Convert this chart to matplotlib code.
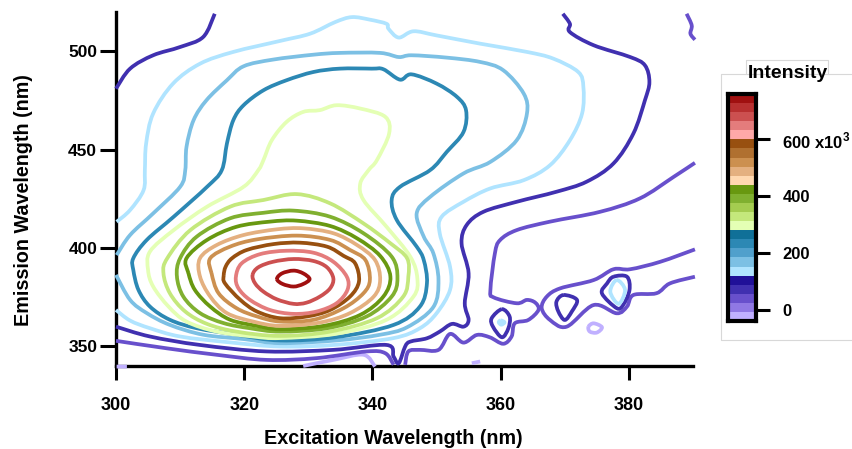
import numpy as np
import matplotlib.pyplot as plt
from matplotlib.lines import Line2D
from matplotlib.patches import PathPatch
from matplotlib.path import Path
from matplotlib.colors import ListedColormap

plt.rcParams["font.family"] = ["Liberation Sans", "DejaVu Sans"]
plt.rcParams["font.weight"] = "bold"
plt.rcParams["mathtext.fontset"] = "custom"
plt.rcParams["mathtext.bf"] = "Liberation Sans:bold"

# contour lines: (excitation nm, emission nm)
ring_dark_red = [(325.1, 384.2), (325.9, 387.1), (327.7, 388.5), (329.2, 387.1), (330.2, 384.2), (329.2, 381.7), (327.7, 380.4), (326.0, 381.7), (325.1, 384.2)]
ring_red = [(321.3, 386.3), (322.2, 390.2), (324.5, 393.0), (327.7, 394.4), (330.8, 393.4), (332.9, 390.2), (333.9, 384.6), (333.4, 379.5), (331.8, 375.3), (329.7, 372.2), (327.7, 371.6), (325.1, 373.9), (323.0, 377.8), (321.7, 382.0), (321.3, 386.3)]
ring_pink = [(318.7, 385.4), (319.6, 392.2), (322.5, 396.9), (326.6, 398.6), (330.8, 397.6), (333.9, 393.0), (336.0, 385.4), (336.1, 378.7), (334.4, 371.9), (331.3, 367.7), (327.7, 366.5), (324.0, 368.5), (320.9, 373.6), (319.1, 379.5), (318.7, 385.4)]
ring_brown = [(316.8, 386.0), (317.1, 390.5), (318.1, 394.8), (320.4, 399.0), (324.6, 402.0), (328.7, 402.7), (332.9, 400.7), (335.5, 396.0), (337.3, 392.2), (337.9, 383.0), (336.5, 375.3), (333.4, 368.5), (329.8, 365.2), (325.6, 364.3), (322.0, 367.7), (319.4, 373.6), (317.0, 382.0), (316.8, 386.0)]
ring_tan = [(314.9, 387.2), (314.7, 394.8), (317.8, 400.7), (322.0, 404.4), (328.2, 406.3), (333.4, 404.1), (336.5, 399.0), (338.9, 393.9), (339.6, 383.8), (338.6, 377.0), (335.5, 369.4), (330.8, 363.5), (325.6, 362.6), (322.0, 365.2), (318.8, 369.4), (316.0, 377.0), (314.9, 387.2)]
ring_light_tan = [(313.1, 385.5), (313.1, 394.8), (315.7, 401.5), (319.9, 406.6), (325.1, 409.5), (329.2, 410.0), (333.9, 407.5), (337.6, 401.5), (340.4, 393.9), (341.2, 383.8), (340.2, 375.3), (336.5, 366.9), (331.8, 362.1), (325.6, 360.4), (321.4, 362.6), (317.3, 366.9), (314.7, 375.3), (313.1, 385.5)]
ring_green = [(311.3, 387.2), (311.0, 394.8), (314.2, 404.1), (318.8, 410.8), (324.0, 413.4), (328.2, 413.9), (333.4, 411.2), (337.6, 404.9), (341.2, 396.0), (342.8, 385.5), (341.7, 375.3), (338.1, 366.0), (332.4, 360.4), (325.6, 358.7), (322.0, 360.4), (317.8, 363.5), (314.7, 370.2), (312.3, 378.7), (311.3, 387.2)]
ring_mid_green = [(309.5, 385.5), (310.0, 394.8), (312.6, 405.8), (317.8, 415.1), (323.0, 417.9), (327.7, 419.0), (333.4, 415.9), (338.6, 407.5), (343.0, 395.6), (343.9, 384.6), (343.0, 375.3), (339.1, 365.2), (332.9, 359.2), (325.6, 357.5), (320.9, 359.2), (316.8, 361.8), (313.1, 366.9), (310.5, 375.3), (309.5, 385.5)]
ring_light_green = [(307.4, 387.2), (308.0, 394.8), (311.6, 409.1), (317.8, 421.0), (323.0, 424.4), (328.2, 427.4), (333.4, 422.7), (338.6, 412.5), (342.8, 402.4), (345.4, 394.8), (345.6, 385.5), (344.8, 375.3), (340.7, 364.3), (333.4, 357.5), (325.6, 355.3), (318.8, 357.5), (314.2, 361.4), (310.8, 367.7), (308.4, 377.0), (307.4, 387.2)]
ring_pale = [(319.9, 431.1), (322.2, 439.6), (323.0, 444.7), (324.3, 454.8), (326.6, 464.1), (329.2, 469.2), (331.8, 470.1), (334.4, 472.6), (338.1, 470.9), (342.0, 466.7), (342.6, 458.2), (340.7, 444.7), (339.4, 439.6), (338.1, 432.8), (338.6, 424.4), (342.2, 410.8), (345.9, 395.6), (347.0, 384.6), (346.4, 375.3), (342.2, 363.5), (334.4, 356.4), (325.6, 354.2), (321.4, 355.0), (315.7, 357.5), (311.0, 362.6), (308.2, 370.2), (305.8, 380.4), (305.0, 388.8), (305.3, 398.2), (309.0, 409.1), (314.2, 421.0), (319.9, 431.1)]
ring_teal = [(349.0, 439.6), (351.6, 448.9), (354.2, 459.0), (354.6, 470.0), (353.2, 476.8), (350.0, 483.6), (346.1, 488.3), (344.3, 485.6), (341.7, 490.9), (339.9, 491.2), (334.9, 491.2), (330.8, 489.5), (326.6, 485.3), (323.0, 480.2), (319.9, 472.6), (318.3, 465.0), (317.3, 453.1), (316.5, 439.6), (314.2, 431.1), (309.0, 415.9), (304.8, 404.1), (302.7, 394.8), (302.7, 388.8), (303.5, 378.7), (305.3, 370.2), (308.4, 363.5), (312.6, 359.2), (318.8, 355.9), (325.6, 353.0), (334.4, 354.7), (343.3, 360.9), (347.4, 370.2), (348.5, 382.1), (348.0, 393.9), (346.9, 400.7), (343.8, 414.2), (343.0, 424.4), (344.3, 431.1), (349.0, 439.6)]
line_sky = [(300.0, 386.3), (302.2, 373.6), (304.8, 366.9), (308.4, 360.9), (313.6, 355.9), (319.9, 353.7), (325.6, 351.6), (334.4, 353.0), (341.2, 355.9), (345.4, 359.7), (349.5, 370.0), (350.3, 383.7), (349.5, 397.3), (348.0, 405.8), (346.9, 417.6), (349.0, 426.0), (354.2, 437.9), (358.4, 443.8), (362.5, 454.8), (364.1, 468.4), (363.6, 478.5), (360.4, 490.4), (356.8, 494.6), (351.6, 496.8), (346.1, 498.0), (344.1, 497.1), (341.2, 499.2), (334.9, 499.2), (330.8, 498.3), (324.5, 495.8), (319.9, 492.4), (317.3, 485.3), (314.1, 475.1), (312.1, 465.0), (311.0, 451.5), (310.8, 439.6), (310.0, 431.1), (305.8, 417.6), (302.2, 406.6), (300.1, 396.4)]
line_light_blue = [(300.0, 368.5), (302.2, 363.1), (305.3, 359.2), (310.0, 355.0), (317.8, 352.0), (325.6, 349.9), (334.4, 350.8), (343.3, 354.2), (347.4, 359.2), (350.0, 366.8), (352.1, 378.7), (352.1, 390.5), (350.5, 407.4), (350.8, 415.9), (354.2, 423.5), (358.4, 430.3), (363.6, 434.5), (367.7, 442.1), (370.8, 454.8), (372.7, 468.4), (372.9, 481.9), (372.1, 489.5), (368.2, 496.3), (364.1, 499.7), (356.8, 503.9), (350.0, 508.1), (346.4, 510.2), (344.1, 507.0), (342.5, 511.5), (342.2, 514.0), (339.6, 516.1), (336.8, 517.4), (334.2, 514.9), (330.3, 509.0), (325.6, 505.3), (318.3, 499.7), (313.1, 493.7), (308.9, 483.6), (305.8, 468.4), (304.7, 453.1), (304.5, 439.6), (304.3, 429.4), (302.2, 419.3), (300.1, 413.3)]
dark_top_left = [(300.0, 481.0), (302.2, 491.2), (305.8, 498.0), (310.0, 502.2), (313.6, 507.3), (315.4, 519.1)]
dark_main = [(300.0, 360.0), (305.3, 355.0), (313.1, 350.7), (323.5, 347.4), (333.9, 348.2), (342.2, 350.7), (343.3, 344.8), (344.1, 341.4), (345.1, 349.9), (345.9, 352.4), (348.5, 354.1), (350.5, 357.5), (352.4, 361.4), (354.2, 360.0), (355.0, 363.4), (354.4, 371.9), (355.0, 387.1), (353.9, 402.4), (354.7, 411.7), (357.3, 418.4), (362.5, 423.5), (368.7, 428.6), (373.4, 433.7), (377.6, 443.0), (380.7, 458.2), (382.5, 475.1), (383.2, 484.4), (382.5, 492.9), (380.2, 497.1), (374.5, 503.1), (370.8, 509.8), (370.8, 514.0), (369.7, 519.1)]
dark_loop_360 = [(360.2, 368.9), (361.4, 365.1), (361.2, 359.2), (360.2, 354.6), (358.8, 360.0), (358.6, 364.3), (360.2, 368.9)]
dark_loop_370 = [(369.8, 376.1), (371.9, 373.6), (371.1, 367.7), (370.0, 363.4), (369.0, 367.7), (368.7, 372.7), (369.8, 376.1)]
dark_loop_378 = [(377.6, 385.4), (379.7, 385.4), (380.1, 378.7), (379.1, 371.0), (378.1, 369.4), (375.8, 376.9), (376.6, 382.0), (377.6, 385.4)]
mid_left = [(300.0, 352.8), (307.9, 349.0), (315.7, 345.7), (323.5, 343.1), (331.3, 344.0), (339.1, 347.4), (342.0, 346.5), (343.3, 340.6)]
mid_main = [(345.1, 340.6), (345.6, 347.4), (347.4, 348.2), (350.3, 348.2), (352.1, 356.3), (354.2, 351.9), (356.3, 355.8), (358.3, 354.6), (360.4, 351.3), (361.7, 355.0), (362.2, 361.7), (364.3, 363.4), (365.9, 368.5), (365.4, 372.2), (364.1, 373.6), (362.5, 371.9), (358.9, 374.9), (358.4, 378.7), (359.1, 397.3), (359.9, 404.0), (362.5, 409.1), (367.7, 413.4), (375.5, 418.4), (381.7, 425.2), (387.0, 436.2), (390.3, 443.3)]
mid_lower = [(390.3, 399.3), (384.9, 393.0), (380.2, 389.2), (377.6, 389.2), (374.5, 383.7), (369.3, 379.5), (367.2, 375.3), (366.4, 369.4), (367.7, 363.4), (370.3, 360.0), (374.5, 371.0), (378.1, 366.8), (379.7, 370.2), (380.7, 376.1), (384.3, 377.0), (386.4, 382.0), (390.3, 385.4)]
mid_top_right = [(389.0, 519.1), (389.8, 513.2), (389.6, 509.0), (390.3, 505.9)]
blue_blob_378 = [(378.1, 383.7), (379.4, 378.7), (378.4, 371.6), (377.1, 377.8), (378.1, 383.7)]
blue_dot_360 = [(360.0, 363.2), (360.6, 362.2), (360.1, 361.0), (359.7, 362.2), (360.0, 363.2)]
lilac_corner = [(300.1, 339.7), (301.7, 339.7)]
lilac_bottom = [(329.2, 340.0), (333.9, 343.1), (338.6, 345.7), (340.4, 339.7)]
lilac_blob = [(373.7, 360.0), (374.5, 361.7), (375.8, 359.7), (375.0, 357.0), (373.9, 357.5), (373.7, 360.0)]
lilac_dot = [(355.5, 341.4), (356.8, 342.3)]

# colour bar levels, x10^3, one colour per band from low to high
bar_levels = [-40, -8, 24, 56, 88, 120, 152, 184, 216, 248, 280, 312, 344, 376, 408, 440, 472, 504, 536, 568, 600, 632, 664, 696, 728, 760]
bar_colors = ["#c0b0ff", "#9078e4", "#6850cc", "#4030b0", "#201098",
              "#b0e4ff", "#7cc0e4", "#50a0cc", "#2c88b4", "#107098",
              "#e4ffb4", "#c4e87c", "#a4cc50", "#80b030", "#689810",
              "#ffd8b0", "#e4b080", "#cc9050", "#b07030", "#985010",
              "#ffa8a8", "#e47c7c", "#cc5050", "#b83030", "#a01010"]
bar_ticks = [0, 200, 400, 600]
bar_tick_labels = ["0", "200", "400", r"600 x10$^{\mathbf{3}}$"]

x_ticks = [300, 320, 340, 360, 380]
y_ticks = [350, 400, 450, 500]

contours = [
    (lilac_corner, "#c0b0ff"), (lilac_bottom, "#c0b0ff"), (lilac_blob, "#c0b0ff"), (lilac_dot, "#c0b0ff"),
    (mid_left, "#6850cc"), (mid_main, "#6850cc"), (mid_lower, "#6850cc"), (mid_top_right, "#6850cc"),
    (dark_top_left, "#4030b0"), (dark_main, "#4030b0"), (dark_loop_360, "#4030b0"),
    (dark_loop_370, "#4030b0"), (dark_loop_378, "#4030b0"),
    (line_light_blue, "#b0e4ff"), (blue_blob_378, "#b0e4ff"), (blue_dot_360, "#b0e4ff"),
    (line_sky, "#7cc0e4"), (ring_teal, "#2c88b4"), (ring_pale, "#e4ffb4"),
    (ring_light_green, "#c4e87c"), (ring_mid_green, "#80b030"), (ring_green, "#689810"),
    (ring_light_tan, "#e4b080"), (ring_tan, "#cc9050"), (ring_brown, "#985010"),
    (ring_pink, "#e47c7c"), (ring_red, "#cc5050"), (ring_dark_red, "#a01010"),
]


def curve_through(pts):
    # bezier path through the read points, closed rings wrap round
    p = np.array(pts, dtype=float)
    closed = len(p) > 3 and tuple(p[0]) == tuple(p[-1])
    n = len(p)
    verts = [p[0]]
    codes = [Path.MOVETO]
    for i in range(n - 1):
        if closed:
            before = p[i - 1] if i > 0 else p[n - 2]
            after = p[i + 2] if i + 2 < n else p[1]
        else:
            before = p[max(i - 1, 0)]
            after = p[min(i + 2, n - 1)]
        verts += [p[i] + (p[i + 1] - before) / 6, p[i + 1] - (after - p[i]) / 6, p[i + 1]]
        codes += [Path.CURVE4] * 3
    return Path(verts, codes)


W, H = 853, 449
fig = plt.figure(figsize=(W / 100, H / 100), dpi=100)
ax = fig.add_axes([116 / W, 1 - 366 / H, 577 / W, 354 / H])

for pts, color in contours:
    ax.add_patch(PathPatch(curve_through(pts), fill=False, edgecolor=color, lw=2.7,
                           capstyle="butt", joinstyle="round", zorder=3, clip_on=False))

ax.set_xlim(300, 390)
ax.set_ylim(340, 520)
ax.set_xticks(x_ticks)
ax.set_yticks(y_ticks)
ax.spines["top"].set_visible(False)
ax.spines["right"].set_visible(False)
ax.spines["left"].set_linewidth(2.4)
ax.spines["bottom"].set_linewidth(2.4)
ax.tick_params(axis="x", length=10, width=2.2, labelsize=13, pad=12.5)
ax.tick_params(axis="y", length=11.5, width=2.2, labelsize=12.5, pad=2)
ax.set_xlabel("Excitation Wavelength (nm)", fontsize=14.2, fontweight="bold")
ax.set_ylabel("Emission Wavelength (nm)", fontsize=14.2, fontweight="bold")
ax.xaxis.set_label_coords(0.48, -0.178)
ax.yaxis.set_label_coords(-0.144, 0.469)

# legend frame with its title tab
frame = "#d8d8d8"
frame_x = [853, 721, 721, 853]
frame_y = [74, 74, 340, 340]
tab_x = [746, 746, 828, 828]
tab_y = [74, 60, 60, 74]
fig.add_artist(Line2D([x / W for x in frame_x], [1 - y / H for y in frame_y], color=frame, lw=0.8))
fig.add_artist(Line2D([x / W for x in tab_x], [1 - y / H for y in tab_y], color=frame, lw=0.8))
fig.text(788 / W, 1 - 74 / H, "Intensity", fontsize=14, fontweight="bold", ha="center", va="center")

cax = fig.add_axes([728 / W, 1 - 321 / H, 28 / W, 227 / H])
cax.pcolormesh([0, 1], bar_levels, np.arange(25).reshape(-1, 1), cmap=ListedColormap(bar_colors), shading="flat")
cax.set_xticks([])
cax.set_yticks(bar_ticks)
cax.set_yticklabels(bar_tick_labels)
cax.yaxis.tick_right()
cax.tick_params(axis="y", length=10, width=2.2, labelsize=12, pad=9)
for side in cax.spines.values():
    side.set_linewidth(3)

fig.savefig("out.png", dpi=100)
